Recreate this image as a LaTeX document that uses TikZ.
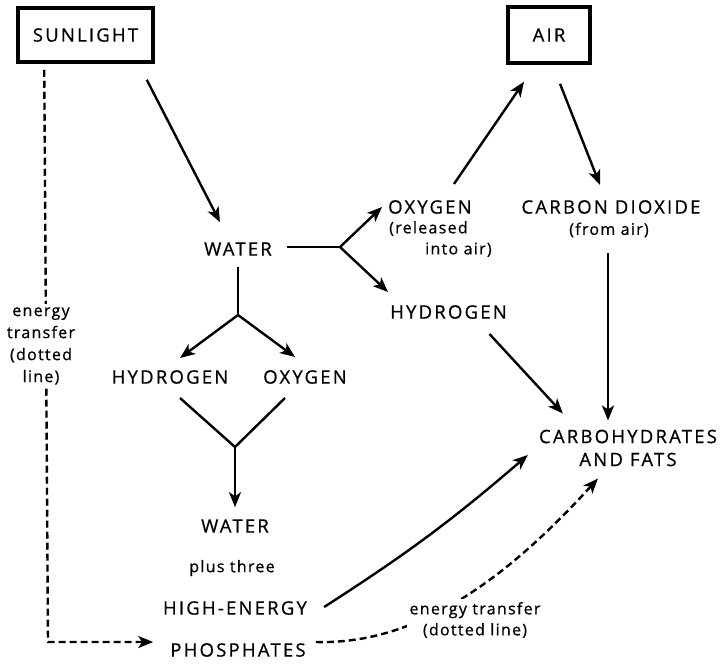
\documentclass[tikz,border=0pt]{standalone}
\usepackage{fontspec}
\setmainfont{Open Sans}[LetterSpace=8, FakeBold=0.7]
\newfontfamily\capsfont{Open Sans}[LetterSpace=12, FakeBold=0.7]
\usetikzlibrary{arrows.meta,calc}
\begin{document}
\begin{tikzpicture}[x=1pt,y=-1pt,
  lbl/.style={font=\capsfont\fontsize{18.5}{22}\selectfont, inner sep=0pt},
  sm/.style={font=\fontsize{16}{21}\selectfont, inner sep=0pt, align=center},
  boxnode/.style={draw, line width=3.5pt, font=\capsfont\fontsize{18.5}{22}\selectfont},
  arr/.style={line width=2.4pt, -{Stealth[length=15pt,width=12pt,inset=4pt]}},
  ln/.style={line width=2.4pt},
  dsh/.style={line width=2.4pt, dash pattern=on 7pt off 4pt},
  dsharr/.style={dsh, -{Stealth[length=15pt,width=12pt,inset=4pt]}}]
\useasboundingbox (0,0) rectangle (721,664);

% nodes
\node[boxnode, minimum width=135pt, minimum height=54pt] (sun) at (85.5,35) {SUNLIGHT};
\node[boxnode, minimum width=82pt, minimum height=56pt] (air) at (549,35) {AIR};
\node[lbl] (water1) at (238,249) {WATER};
\node[lbl, anchor=west] (oxy1) at (388,207) {OXYGEN};
\node[sm, anchor=north west, align=left] (rel) at (389,221) {(released\\\hspace*{36pt}into air)};
\node[lbl] (co2) at (611,207) {CARBON DIOXIDE};
\node[sm] (cfa) at (609,230) {(from air)};
\node[lbl, anchor=west] (hyd1) at (390,312) {HYDROGEN};
\node[lbl] (hyd2) at (170,377) {HYDROGEN};
\node[lbl] (oxy2) at (305,377) {OXYGEN};
\node[lbl, align=center, font=\capsfont\fontsize{18.5}{23}\selectfont] (carb) at (628,448) {CARBOHYDRATES\\AND FATS};
\node[lbl] (water2) at (235,526) {WATER};
\node[sm] (plus) at (232,568) {plus three};
\node[lbl] (high) at (235,608) {HIGH-ENERGY};
\node[lbl] (phos) at (238,650) {PHOSPHATES};

% fork points
\coordinate (f1) at (340,247);
\coordinate (f2) at (238,315);
\coordinate (v) at (235,447);
\coordinate (corner) at (48,642);

% solid connectors
\draw[arr] ($(sun.south east)+(-8,16)$) -- ($(water1.north)+(-18,-20)$);
\draw[ln] ($(water1.east)+(15,-2)$) -- (f1);
\draw[arr] (f1) -- ($(oxy1.west)+(-6,0)$);
\draw[arr] (f1) -- ($(hyd1.north west)+(-2,-13)$);
\draw[arr] ($(oxy1.north)+(24,-16)$) -- ($(air.south)+(-25,17)$);
\draw[arr] ($(air.south)+(11,19)$) -- ($(co2.north)+(-11,-15)$);
\draw[arr] ($(cfa.south)+(-1,15)$) -- ($(cfa.south |- carb.north)+(-1,-9)$);
\draw[arr] ($(hyd1.south)+(41,15)$) -- ($(carb.north west)+(24,-16)$);
\draw[ln] ($(water1.south)+(0,11)$) -- (f2);
\draw[arr] (f2) -- ($(hyd2.north)+(10,-12)$);
\draw[arr] (f2) -- ($(oxy2.north)+(-10,-13)$);
\draw[ln] ($(hyd2.south)+(10,14)$) -- (v) -- ($(oxy2.south)+(-20,14)$);
\draw[arr] (v) -- ($(water2.north)+(0,-12)$);
\draw[arr] ($(high.east)+(17,-1)$) to[bend right=4] ($(carb.west)+(-11,7)$);

% dashed connectors
\draw[dsharr] ($(phos.east)+(10,-8)$) .. controls (420,645) and (510,575) .. ($(carb.south)+(-30,12)$);
\draw[dsharr] ($(sun.south west)+(28,6)$) -- (corner) -- ($(phos.west)+(-17,-8)$);

% labels on dashed lines
\node[sm, fill=white, inner sep=3pt, font=\fontsize{16}{22}\selectfont] (etl) at (41,346) {energy\\transfer\\(dotted\\line)};
\node[sm, fill=white, inner sep=3pt] (etr) at (475,620) {energy transfer\\(dotted line)};
\end{tikzpicture}
\end{document}
